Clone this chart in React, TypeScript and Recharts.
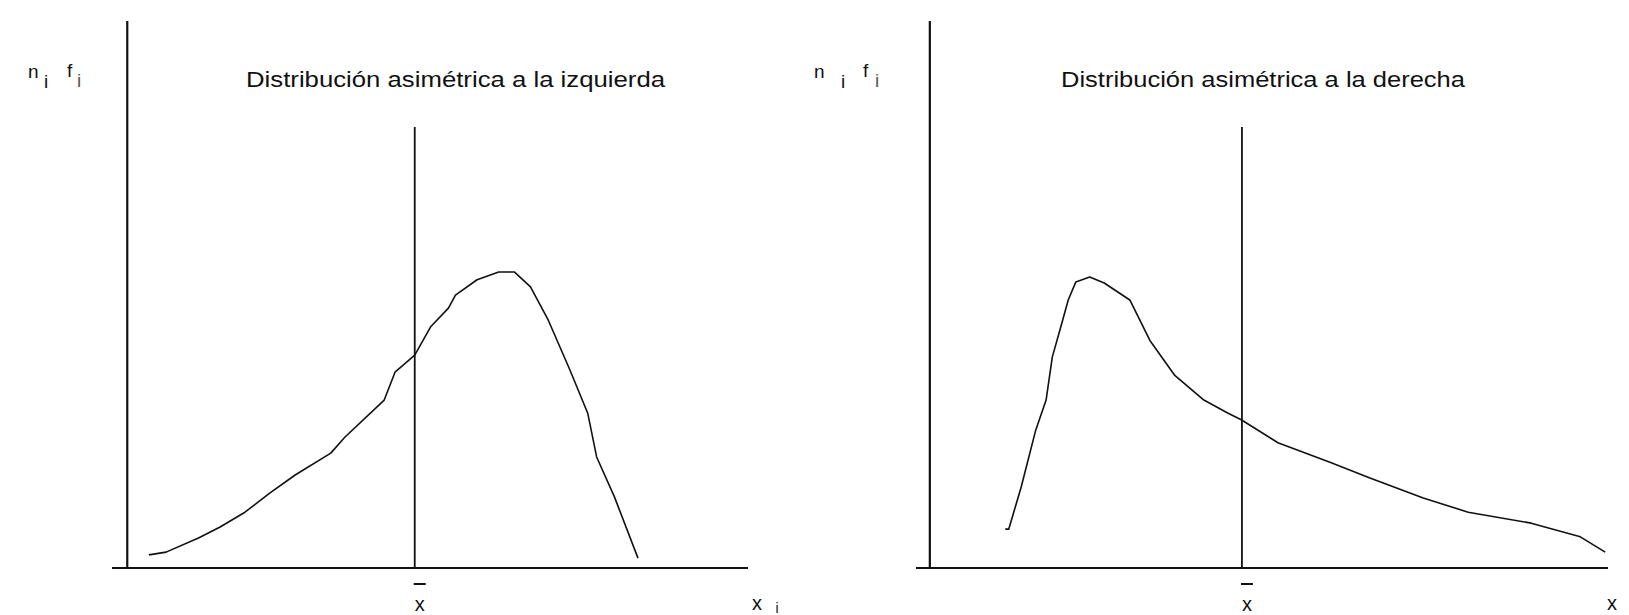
import { Line, LineChart, ReferenceLine, XAxis, YAxis } from "recharts";

// left-skewed curve (x, relative frequency)
const leftCurveX = [5.8, 8.5, 13.6, 17.0, 20.9, 24.8, 28.8, 34.4, 36.6, 42.8, 44.5, 47.6, 50.1, 52.9, 54.0, 57.4, 60.8, 63.3, 65.8, 68.6, 72.0, 74.8, 76.2, 79.0, 82.7];
const leftCurveY = [2.4, 2.9, 5.5, 7.5, 10.2, 13.7, 17.0, 21.0, 23.9, 30.7, 35.8, 38.9, 44.1, 47.5, 49.9, 52.7, 54.1, 54.1, 51.4, 45.3, 36.2, 28.3, 20.3, 13.0, 1.8];

// right-skewed curve
const rightCurveX = [12.9, 13.4, 15.2, 17.3, 18.8, 19.7, 20.8, 22.0, 23.1, 25.1, 27.2, 30.9, 33.8, 37.4, 41.6, 45.1, 47.0, 52.3, 60.1, 65.5, 73.3, 79.8, 88.9, 96.0, 99.6];
const rightCurveY = [7.1, 7.1, 14.8, 25.2, 30.7, 38.6, 43.5, 49.0, 52.3, 53.2, 52.1, 49.0, 41.6, 35.2, 30.7, 28.3, 27.1, 22.9, 19.2, 16.5, 12.8, 10.2, 8.2, 5.7, 2.9];

const titles = ["Distribución asimétrica a la izquierda", "Distribución asimétrica a la derecha"];
const means = [47.6, 47.1];
const meanHeight = 80.6;
const yAxisAt = [2.4, 2.0];
const endLabels = ["x", "x"];
const endSubscripts = ["i", ""];

const FONT = "'Liberation Sans', Arial, sans-serif";
const INK = "#111";

const toRows = (xs: number[], ys: number[]) => xs.map((x, i) => ({ x, y: ys[i] }));

type PanelProps = {
  idx: number;
  data: { x: number; y: number }[];
  left: number;
  width: number;
  margin: { top: number; right: number; bottom: number; left: number };
  titleX: number;
  titleLen: number;
  yLabelX: number[];
  tickShift: number;
};

function Panel({ idx, data, left, width, margin, titleX, titleLen, yLabelX, tickShift }: PanelProps) {
  const mean = means[idx];

  const renderTick = (props: any) => {
    const { x, payload } = props;
    if (payload.value === mean) {
      const cx = x + 5;
      return (
        <g>
          <line x1={cx - 6} x2={cx + 6} y1={584} y2={584} stroke={INK} strokeWidth={2} />
          <text x={cx} y={611} textAnchor="middle" fontSize={20} fontFamily={FONT} fill={INK}>
            x
          </text>
        </g>
      );
    }
    return (
      <g>
        <text x={x + tickShift} y={610} textAnchor="middle" fontSize={20} fontFamily={FONT} fill={INK}>
          {endLabels[idx]}
        </text>
        {endSubscripts[idx] && (
          <text x={x + tickShift + 20} y={613} textAnchor="middle" fontSize={14} fontFamily={FONT} fill={INK}>
            {endSubscripts[idx]}
          </text>
        )}
      </g>
    );
  };

  return (
    <div style={{ position: "absolute", left, top: 0 }}>
      <LineChart width={width} height={615} data={data} margin={margin}>
        <XAxis
          dataKey="x"
          type="number"
          domain={[0, 100]}
          ticks={[mean, 100]}
          interval={0}
          height={30}
          axisLine={{ stroke: INK, strokeWidth: 2.2 }}
          tickLine={false}
          tick={renderTick}
        />
        <YAxis hide type="number" domain={[0, 100]} />
        <ReferenceLine x={yAxisAt[idx]} stroke={INK} strokeWidth={2.2} />
        <ReferenceLine
          segment={[
            { x: mean, y: 0 },
            { x: mean, y: meanHeight }
          ]}
          stroke={INK}
          strokeWidth={1.8}
        />
        <Line
          dataKey="y"
          type="linear"
          dot={false}
          stroke={INK}
          strokeWidth={1.6}
          strokeLinejoin="round"
          isAnimationActive={false}
        />
        <text x={titleX} y={87} fontSize={22} fontFamily={FONT} fill={INK} textLength={titleLen} lengthAdjust="spacingAndGlyphs">
          {titles[idx]}
        </text>
        <g fontFamily={FONT} fill={INK} fontSize={19}>
          <text x={yLabelX[0]} y={78}>n</text>
          <text x={yLabelX[1]} y={88}>i</text>
          <text x={yLabelX[2]} y={77}>f</text>
          <text x={yLabelX[3]} y={87} fill="#555">i</text>
        </g>
      </LineChart>
    </div>
  );
}

export default function App() {
  return (
    <div style={{ position: "absolute", left: 0, top: 0, width: 1629, height: 615, background: "#fff" }}>
      <Panel
        idx={0}
        data={toRows(leftCurveX, leftCurveY)}
        left={0}
        width={800}
        margin={{ top: 21, right: 52, bottom: 17, left: 112 }}
        titleX={246}
        titleLen={419}
        yLabelX={[28, 44, 67, 77]}
        tickShift={9}
      />
      <Panel
        idx={1}
        data={toRows(rightCurveX, rightCurveY)}
        left={800}
        width={829}
        margin={{ top: 21, right: 21, bottom: 17, left: 116 }}
        titleX={261}
        titleLen={404}
        yLabelX={[14, 41, 63, 75]}
        tickShift={4}
      />
    </div>
  );
}
